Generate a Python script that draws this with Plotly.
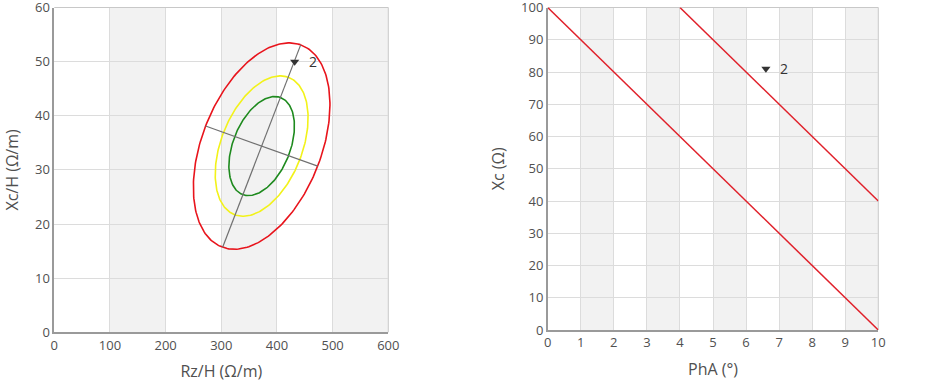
import numpy as np
import plotly.graph_objects as go

# ---------------- data ----------------
# Left chart: tolerance ellipses (Rz/H vs Xc/H)
ellipse_center = [372.5, 34.4]          # (Rz/H, Xc/H)
ellipse_major_half = [70.1, 18.7]       # half major axis vector
ellipse_minor_half = [100.7, -3.7]      # half minor axis vector
ellipse_scales = [0.48, 0.68, 1.0]      # 50%, 75%, 95%
ellipse_colors = ["#1e8a1e", "#f2f21a", "#e8141c"]
left_point_x = [431.8]
left_point_y = [50.0]
left_point_label = ["2"]

# Right chart: PhA vs Xc reference lines
line1_pha = [0, 10]
line1_xc = [100, 0]
line2_pha = [4, 10]
line2_xc = [100, 40]
right_point_x = [6.6]
right_point_y = [81.0]
right_point_label = ["2"]

left_xticks = [0, 100, 200, 300, 400, 500, 600]
left_yticks = [0, 10, 20, 30, 40, 50, 60]
right_xticks = list(range(0, 11))
right_yticks = list(range(0, 101, 10))

FONT = "Open Sans"
GRID = "#dcdcdc"
BAND = "#f2f2f2"
AXIS = "#9a9a9a"
TXT = "#505050"

fig = go.Figure()

# ellipses
t = np.linspace(0, 2 * np.pi, 241)
cx, cy = ellipse_center
for s, col in zip(ellipse_scales, ellipse_colors):
    ex = cx + s * (ellipse_major_half[0] * np.cos(t) + ellipse_minor_half[0] * np.sin(t))
    ey = cy + s * (ellipse_major_half[1] * np.cos(t) + ellipse_minor_half[1] * np.sin(t))
    fig.add_trace(go.Scatter(x=ex, y=ey, mode="lines", line=dict(color=col, width=1.6),
                             xaxis="x", yaxis="y", hoverinfo="skip", showlegend=False))

# ellipse axes
fig.add_trace(go.Scatter(x=[cx - ellipse_major_half[0], cx + ellipse_major_half[0]],
                         y=[cy - ellipse_major_half[1], cy + ellipse_major_half[1]],
                         mode="lines", line=dict(color="#707070", width=1.2),
                         xaxis="x", yaxis="y", showlegend=False))
fig.add_trace(go.Scatter(x=[cx - ellipse_minor_half[0], cx + ellipse_minor_half[0]],
                         y=[cy - ellipse_minor_half[1], cy + ellipse_minor_half[1]],
                         mode="lines", line=dict(color="#707070", width=1.2),
                         xaxis="x", yaxis="y", showlegend=False))

fig.add_trace(go.Scatter(x=left_point_x, y=left_point_y, mode="markers",
                         marker=dict(symbol="triangle-down", size=8, color="#333333"),
                         xaxis="x", yaxis="y", showlegend=False))

# right chart lines
for xs, ys in [(line1_pha, line1_xc), (line2_pha, line2_xc)]:
    fig.add_trace(go.Scatter(x=xs, y=ys, mode="lines", line=dict(color="#e0202a", width=1.5),
                             xaxis="x2", yaxis="y2", showlegend=False))
fig.add_trace(go.Scatter(x=right_point_x, y=right_point_y, mode="markers",
                         marker=dict(symbol="triangle-down", size=8, color="#333333"),
                         xaxis="x2", yaxis="y2", showlegend=False))

# labels
annotations = []
for x, y, lab in zip(left_point_x, left_point_y, left_point_label):
    annotations.append(dict(x=x, y=y, xref="x", yref="y", text=lab, showarrow=False,
                            xshift=18, yshift=0, font=dict(family=FONT, size=14, color="#333")))
for x, y, lab in zip(right_point_x, right_point_y, right_point_label):
    annotations.append(dict(x=x, y=y, xref="x2", yref="y2", text=lab, showarrow=False,
                            xshift=18, yshift=0, font=dict(family=FONT, size=14, color="#333")))

# shaded bands
shapes = []
for i in range(1, len(left_xticks) - 1, 2):
    shapes.append(dict(type="rect", xref="x", yref="y domain", x0=left_xticks[i], x1=left_xticks[i + 1],
                       y0=0, y1=1, fillcolor=BAND, line=dict(width=0), layer="below"))
for i in range(1, len(right_xticks) - 1, 2):
    shapes.append(dict(type="rect", xref="x2", yref="y2 domain", x0=right_xticks[i], x1=right_xticks[i + 1],
                       y0=0, y1=1, fillcolor=BAND, line=dict(width=0), layer="below"))
# top/right borders
for xr, yr in [("x", "y"), ("x2", "y2")]:
    shapes.append(dict(type="line", xref=xr + " domain", yref=yr + " domain", x0=0, x1=1, y0=1, y1=1,
                       line=dict(color="#c8c8c8", width=1), layer="below"))
    shapes.append(dict(type="line", xref=xr + " domain", yref=yr + " domain", x0=1, x1=1, y0=0, y1=1,
                       line=dict(color="#c8c8c8", width=1), layer="below"))

W, H = 934, 382


def xd(px0, px1):
    return [px0 / W, px1 / W]


def yd(top, bottom):
    return [(H - bottom) / H, (H - top) / H]


axis_common = dict(showgrid=True, gridcolor=GRID, gridwidth=1, zeroline=False,
                   showline=True, linecolor=AXIS, linewidth=1.5, ticks="",
                   automargin=False, ticklabeloverflow="allow",
                   tickfont=dict(family=FONT, size=13, color=TXT))
title_font = dict(family=FONT, size=16, color=TXT)

fig.update_layout(
    width=W, height=H,
    margin=dict(l=0, r=0, t=0, b=0),
    paper_bgcolor="white", plot_bgcolor="white",
    font=dict(family=FONT, color=TXT),
    xaxis=dict(domain=xd(54.3, 388.3), range=[0, 600], tickvals=left_xticks,
               title=dict(text="Rz/H (Ω/m)", font=title_font, standoff=13),
               anchor="y", **axis_common),
    yaxis=dict(domain=yd(7.5, 332.3), range=[0, 60], tickvals=left_yticks,
               title=dict(text="Xc/H (Ω/m)", font=title_font, standoff=12),
               anchor="x", **axis_common),
    xaxis2=dict(domain=xd(547.7, 878.3), range=[0, 10], tickvals=right_xticks,
                title=dict(text="PhA (°)", font=title_font, standoff=13),
                anchor="y2", **axis_common),
    yaxis2=dict(domain=yd(7.5, 330.0), range=[0, 100], tickvals=right_yticks,
                title=dict(text="Xc (Ω)", font=title_font, standoff=12),
                anchor="x2", **axis_common),
    shapes=shapes,
    annotations=annotations,
)

# remove the default 8px page margin so the figure sits at the window's top-left corner
fig.write_html("out.html",
               config={"displayModeBar": False},
               post_script="document.body.style.margin='0';document.body.style.overflow='hidden';")
